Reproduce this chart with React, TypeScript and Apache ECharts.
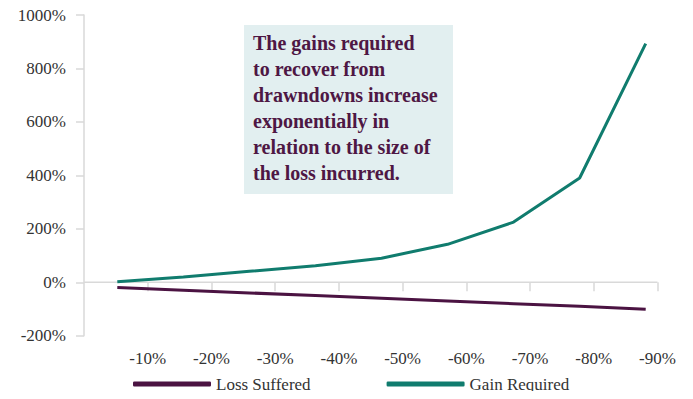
import React, { useEffect, useRef } from "react";
import * as echarts from "echarts";

// Drawdown size (x) against the loss suffered and the gain needed to recover
const categories = ["-10%", "-20%", "-30%", "-40%", "-50%", "-60%", "-70%", "-80%", "-90%"];
const lossSuffered = [-20, -30, -40, -50, -60, -70, -80, -90, -101];
const gainRequired = [2, 20, 41, 62, 90, 142, 225, 390, 893];
const xTickLabels = ["-10%", "-20%", "-30%", "-40%", "-50%", "-60%", "-70%", "-80%", "-90%"];
const yTicks = { min: -200, max: 1000, step: 200 };

const note = [
  "The gains required",
  "to recover from",
  "drawndowns increase",
  "exponentially in",
  "relation to the size of",
  "the loss incurred.",
];

const FONT = "'Liberation Serif', 'DejaVu Serif', serif";
const PURPLE = "#4B1342";
const TEAL = "#107C6E";
const GRID_GREY = "#D9D9D9";
const LABEL = "#333333";

export default function App() {
  const ref = useRef<HTMLDivElement>(null);

  useEffect(() => {
    if (!ref.current) return;
    const chart = echarts.init(ref.current, null, { renderer: "svg" });
    const tickIdx = xTickLabels.map((_, i) => i + 1);

    chart.setOption({
      animation: false,
      textStyle: { fontFamily: FONT },
      grid: [
        { left: 84, right: 35.5, top: 15, bottom: 63.3 },
        { left: 117.3, right: 47.3, top: 15, bottom: 63.3 },
      ],
      xAxis: [
        {
          type: "value",
          gridIndex: 0,
          min: 0,
          max: xTickLabels.length,
          splitLine: { show: false },
          axisLine: { show: false },
          axisTick: {
            show: true,
            customValues: tickIdx,
            length: 9,
            lineStyle: { color: GRID_GREY, width: 1.5 },
          },
          axisLabel: {
            customValues: tickIdx,
            formatter: (v: number) => xTickLabels[Math.round(v) - 1] ?? "",
            color: LABEL,
            fontSize: 17,
            fontFamily: FONT,
            margin: 14,
          },
        },
        {
          type: "category",
          gridIndex: 1,
          data: categories,
          boundaryGap: false,
          show: false,
        },
      ],
      yAxis: [
        {
          type: "value",
          gridIndex: 0,
          min: yTicks.min,
          max: yTicks.max,
          interval: yTicks.step,
          splitLine: { show: false },
          axisLine: { show: true, lineStyle: { color: GRID_GREY, width: 1.5 } },
          axisTick: { show: true, length: 8, lineStyle: { color: GRID_GREY, width: 1.5 } },
          axisLabel: {
            formatter: (v: number) => `${v}%`,
            color: LABEL,
            fontSize: 17,
            fontFamily: FONT,
            margin: 18,
          },
        },
        {
          type: "value",
          gridIndex: 1,
          min: yTicks.min,
          max: yTicks.max,
          show: false,
        },
      ],
      legend: {
        data: ["Loss Suffered", "Gain Required"],
        left: 133,
        top: 374,
        padding: 0,
        icon: "roundRect",
        itemWidth: 78,
        itemHeight: 5,
        itemGap: 76,
        textStyle: { color: LABEL, fontSize: 17, fontFamily: FONT, lineHeight: 20 },
      },
      series: [
        {
          name: "zero",
          type: "line",
          xAxisIndex: 0,
          yAxisIndex: 0,
          data: [
            [0, 0],
            [xTickLabels.length, 0],
          ],
          symbol: "none",
          silent: true,
          z: 1,
          lineStyle: { color: GRID_GREY, width: 1.5 },
        },
        {
          name: "Loss Suffered",
          type: "line",
          xAxisIndex: 1,
          yAxisIndex: 1,
          data: lossSuffered,
          symbol: "none",
          z: 3,
          itemStyle: { color: PURPLE },
          lineStyle: { color: PURPLE, width: 3 },
        },
        {
          name: "Gain Required",
          type: "line",
          xAxisIndex: 1,
          yAxisIndex: 1,
          data: gainRequired,
          symbol: "none",
          z: 3,
          itemStyle: { color: TEAL },
          lineStyle: { color: TEAL, width: 3 },
        },
      ],
      graphic: [
        {
          type: "rect",
          left: 244,
          top: 25,
          shape: { width: 209, height: 169 },
          style: { fill: "#E2EFF0" },
          z: 0,
        },
        {
          type: "text",
          left: 253,
          top: 30,
          z: 1,
          style: {
            text: note.join("\n"),
            fill: "#4E1744",
            font: `bold 20px ${FONT}`,
            lineHeight: 26,
          },
        },
      ],
    });

    return () => chart.dispose();
  }, []);

  return <div ref={ref} style={{ width: 693, height: 399, margin: -8 }} />;
}
